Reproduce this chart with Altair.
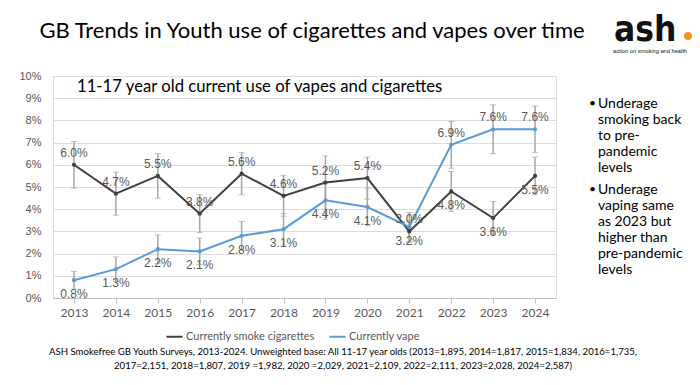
import altair as alt
import pandas as pd

years = [str(y) for y in range(2013, 2025)]
smoke = [6.0, 4.7, 5.5, 3.8, 5.6, 4.6, 5.2, 5.4, 3.0, 4.8, 3.6, 5.5]
vape = [0.8, 1.3, 2.2, 2.1, 2.8, 3.1, 4.4, 4.1, 3.2, 6.9, 7.6, 7.6]
smoke_err = [1.05, 0.97, 1.0, 0.85, 0.95, 0.92, 1.2, 0.95, 0.5, 0.9, 0.75, 0.85]
vape_err = [0.4, 0.55, 0.64, 0.6, 0.65, 0.7, 0.85, 0.85, 0.65, 1.05, 1.1, 1.05]
series_names = ["Currently smoke cigarettes", "Currently vape"]
y_ticks = list(range(0, 11))

title_text = "GB Trends in Youth use of cigarettes and vapes over time"
subtitle_text = "11-17 year old current use of vapes and cigarettes"
bullet1 = "Underage\nsmoking back\nto pre-\npandemic\nlevels"
bullet2 = " Underage\nvaping same\nas 2023 but\nhigher than\npre-pandemic\nlevels"
footer = ("ASH Smokefree GB Youth Surveys, 2013-2024. Unweighted base: All 11-17 year olds "
          "(2013=1,895, 2014=1,817, 2015=1,834, 2016=1,735,\n2017=2,151, 2018=1,807, 2019 =1,982, "
          "2020 =2,029, 2021=2,109, 2022=2,111, 2023=2,028, 2024=2,587)")

rows = []
for i, yr in enumerate(years):
    for name, vals, errs in ((series_names[0], smoke, smoke_err), (series_names[1], vape, vape_err)):
        rows.append(dict(year=yr, series=name, value=vals[i],
                         lo=vals[i] - errs[i], hi=vals[i] + errs[i]))
df = pd.DataFrame(rows)
df["label"] = df["value"].map(lambda v: f"{v:.1f}%")
df["above"] = (df["series"] == series_names[0]) == (df["year"].astype(int) < 2022)

W, H = 503, 222
GRAY = "#595959"

x = alt.X("year:O", scale=alt.Scale(type="point", padding=0.5),
          axis=alt.Axis(title=None, labelAngle=0, ticks=True, tickSize=5, tickColor="#bfbfbf",
                        domainColor="#bfbfbf", labelColor=GRAY, labelFont="Lato",
                        labelFontSize=12, labelPadding=4, grid=False))
y_scale = alt.Scale(domain=[0, 10], nice=False)
y_axis = alt.Axis(title=None, values=y_ticks, labelExpr="datum.value + '%'",
                  ticks=False, labelOverlap=False,
                  domainColor="#d9d9d9", gridColor="#dcdcdc", labelColor=GRAY,
                  labelFont="Liberation Sans", labelFontSize=11, labelPadding=12)


def yenc(field):
    return alt.Y(field, scale=y_scale, axis=y_axis)


color_scale = alt.Scale(domain=series_names, range=["#404040", "#5b9bd5"])

base = alt.Chart(df)

err = base.mark_rule(color="#a6a6a6", strokeWidth=1.5).encode(x=x, y=yenc("lo:Q"), y2="hi:Q")
cap_lo = base.mark_tick(color="#a6a6a6", thickness=1, size=6).encode(x=x, y=yenc("lo:Q"))
cap_hi = base.mark_tick(color="#a6a6a6", thickness=1, size=6).encode(x=x, y=yenc("hi:Q"))

lines = base.mark_line(strokeWidth=2).encode(
    x=x, y=yenc("value:Q"),
    color=alt.Color("series:N", scale=color_scale,
                    legend=alt.Legend(orient="none", legendX=112, legendY=251, direction="horizontal",
                                      title=None, symbolType="stroke", symbolStrokeWidth=2,
                                      symbolSize=260, labelFont="Lato", labelFontSize=11,
                                      labelColor=GRAY, columnPadding=10, labelOffset=2)))
pts = base.mark_circle(size=18, opacity=1).encode(
    x=x, y=yenc("value:Q"), color=alt.Color("series:N", scale=color_scale, legend=None))

lab_above = base.transform_filter("datum.above").mark_text(
    dy=-12, font="Liberation Sans", fontSize=12, color=GRAY).encode(
    x=x, y=yenc("value:Q"), text="label:N")
lab_below = base.transform_filter("!datum.above").mark_text(
    dy=14, font="Liberation Sans", fontSize=12, color=GRAY).encode(
    x=x, y=yenc("value:Q"), text="label:N")

one = pd.DataFrame({"k": [0]})
ann = alt.Chart(one)

title = ann.mark_text(font="Lato", fontSize=22, color="#000000", align="center",
                      baseline="alphabetic").encode(x=alt.value(259), y=alt.value(-38),
                                                   text=alt.value(title_text))
sub = ann.mark_text(font="Lato", fontSize=16.7, color="#000000", align="left",
                    baseline="alphabetic").encode(x=alt.value(24), y=alt.value(16),
                                                 text=alt.value(subtitle_text))
logo = ann.mark_text(font="DejaVu Sans Condensed", fontSize=35,
                     fontWeight="bold", color="#111111", align="left",
                     baseline="alphabetic").encode(x=alt.value(561), y=alt.value(-35),
                                                  text=alt.value("ash"))
dot = ann.mark_circle(size=64, color="#f7941d", opacity=1).encode(x=alt.value(635), y=alt.value(-40))
logo_sub = ann.mark_text(font="Liberation Sans", fontSize=5.7,
                         color="#111111", align="left", baseline="middle").encode(
    x=alt.value(560), y=alt.value(-25), text=alt.value("action on smoking and health"))

b1_dot = ann.mark_text(font="Lato", fontSize=12, color="#000", align="left", baseline="top").encode(
    x=alt.value(536), y=alt.value(22), text=alt.value("•"))
b1 = ann.mark_text(font="Lato", fontSize=14, color="#000", align="left", baseline="top",
                   lineBreak="\n", lineHeight=16).encode(
    x=alt.value(545), y=alt.value(21), text=alt.value(bullet1))
b2_dot = ann.mark_text(font="Lato", fontSize=12, color="#000", align="left", baseline="top").encode(
    x=alt.value(536), y=alt.value(108), text=alt.value("•"))
b2 = ann.mark_text(font="Lato", fontSize=14, color="#000", align="left", baseline="top",
                   lineBreak="\n", lineHeight=16).encode(
    x=alt.value(545), y=alt.value(107), text=alt.value(bullet2))

foot = ann.mark_text(font="Lato", fontSize=9.6, color="#000", align="center", baseline="top",
                     lineBreak="\n", lineHeight=14).encode(
    x=alt.value(290), y=alt.value(271), text=alt.value(footer))

chart = alt.layer(err, cap_lo, cap_hi, lines, pts, lab_above, lab_below,
                  title, sub, logo, dot, logo_sub, b1_dot, b1, b2_dot, b2, foot).properties(
    width=W, height=H,
    autosize=alt.AutoSizeParams(type="none"),
    padding={"left": 45, "top": 68, "right": 136, "bottom": 79},
).configure_view(stroke=None).configure(background="white")

chart.save("out.html", embed_options={"renderer": "svg", "actions": False})
